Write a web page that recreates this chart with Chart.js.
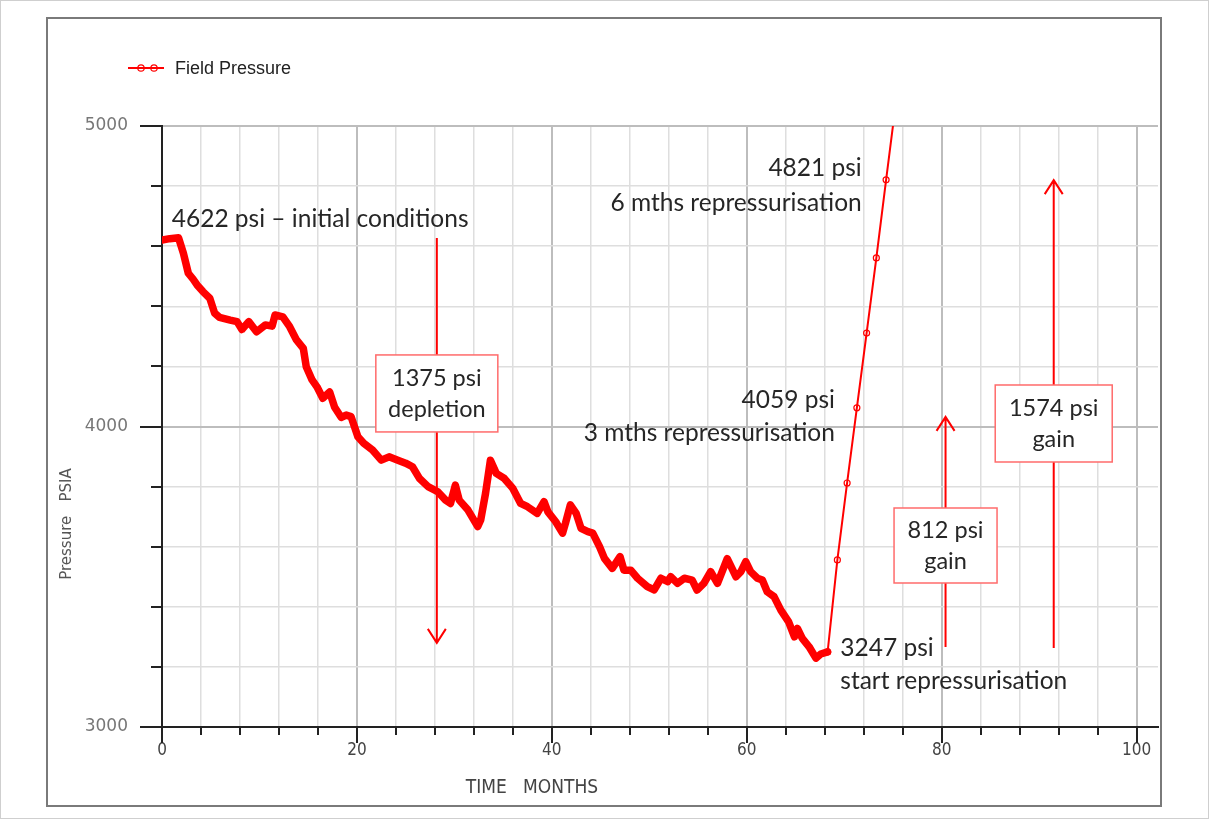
<!DOCTYPE html>
<html>
<head>
<meta charset="utf-8">
<script src="https://cdn.jsdelivr.net/npm/chart.js@4.4.0/dist/chart.umd.min.js"></script>
<style>
  html, body { margin: 0; padding: 0; background: #fff; }
  #wrap { position: relative; width: 1209px; height: 819px; }
</style>
</head>
<body>
<div id="wrap"><canvas id="pressureChart"></canvas></div>
<script>
// field history (months, psia)
const historyMonths = [
    0, 0.8, 1.7, 2.2, 2.7, 3.2, 3.6, 4.2, 4.9, 5.4, 5.9, 7.0, 7.7, 8.2, 8.9, 9.7,
    10.6, 11.3, 11.6, 12.4, 13.1, 13.8, 14.5, 14.8, 15.4, 15.9, 16.5, 17.2, 17.7, 18.4, 18.9, 19.4,
    20.1, 20.7, 21.6, 22.5, 23.3, 24.2, 25.0, 25.7, 26.4, 27.3, 28.3, 29.1, 29.6, 30.1, 30.5, 31.4,
    32.4, 32.7, 33.2, 33.7, 34.3, 35.1, 36.0, 36.8, 37.5, 38.5, 39.2, 39.6, 40.4, 41.1, 41.4, 41.9,
    42.5, 43.0, 43.7, 44.2, 44.9, 45.4, 46.2, 47.0, 47.4, 48.1, 48.8, 49.8, 50.5, 51.2, 51.9, 52.2,
    52.9, 53.6, 54.4, 54.9, 55.6, 56.3, 57.0, 58.0, 58.9, 59.4, 59.9, 60.4, 61.1, 61.6, 62.1, 62.8,
    63.5, 64.3, 64.9, 65.2, 65.7, 66.4, 67.1, 67.6, 68.3
];
const historyPsi = [
    4620, 4625, 4628, 4576, 4510, 4490, 4471, 4449, 4427, 4377, 4363, 4354, 4349, 4323, 4349, 4315,
    4338, 4334, 4371, 4365, 4332, 4288, 4260, 4199, 4155, 4132, 4094, 4115, 4065, 4030, 4038, 4033,
    3966, 3944, 3922, 3888, 3899, 3888, 3878, 3866, 3828, 3800, 3783, 3755, 3744, 3805, 3755, 3722,
    3667, 3689, 3778, 3888, 3844, 3828, 3794, 3744, 3733, 3711, 3750, 3716, 3683, 3645, 3678, 3739,
    3711, 3661, 3650, 3645, 3600, 3561, 3528, 3567, 3522, 3522, 3495, 3467, 3456, 3495, 3484, 3500,
    3478, 3495, 3489, 3456, 3478, 3517, 3478, 3560, 3500, 3517, 3550, 3517, 3495, 3489, 3450, 3434,
    3389, 3350, 3300, 3328, 3295, 3267, 3229, 3243, 3250
];
// repressurisation, one point a month
const repressMonths = [68.3, 69.3, 70.3, 71.3, 72.3, 73.3, 74.3, 75.3];
const repressPsi = [3250, 3556, 3812, 4062, 4311, 4561, 4821, 5076];

const yTickLabels = [3000, 4000, 5000];
const xTickLabels = [0, 20, 40, 60, 80, 100];

const RED = '#ff0000';
const BOX_RED = '#ff6b6b';
const TEXT = '#262626';
const NOTE_FONT = '24.5px Lato, "Open Sans", sans-serif';
const BOX_FONT = '23.5px Lato, "Open Sans", sans-serif';

// annotation texts / arrows / boxes, placed in data units
const notes = [
    { text: '4622 psi \u2013 initial conditions', m: 1.0, p: 4690, align: 'left' },
    { text: '4821 psi', m: 71.8, p: 4860, align: 'right' },
    { text: '6 mths repressurisation', m: 71.8, p: 4744, align: 'right' },
    { text: '4059 psi', m: 69.05, p: 4088, align: 'right' },
    { text: '3 mths repressurisation', m: 69.05, p: 3978, align: 'right' },
    { text: '3247 psi', m: 69.6, p: 3263, align: 'left' },
    { text: 'start repressurisation', m: 69.6, p: 3153, align: 'left' }
];
const arrows = [
    { m: 28.2, from: 4627, to: 3280 },
    { m: 80.4, from: 3266, to: 4032 },
    { m: 91.5, from: 3263, to: 4820 }
];
const boxes = [
    { m: 28.2, p: 4110, w: 122, h: 77, lines: ['1375 psi', 'depletion'] },
    { m: 80.4, p: 3604, w: 103, h: 75, lines: ['812 psi', 'gain'] },
    { m: 91.5, p: 4010, w: 117, h: 77, lines: ['1574 psi', 'gain'] }
];

function toPoints(xs, ys) {
    return xs.map((x, i) => ({ x: x, y: ys[i] }));
}

const decorPlugin = {
    id: 'decor',
    beforeDraw(chart) {
        const c = chart.ctx;
        c.save();
        c.fillStyle = '#fff';
        c.fillRect(0, 0, chart.width, chart.height);
        c.strokeStyle = '#cfcfcf';
        c.lineWidth = 1;
        c.strokeRect(0.5, 0.5, chart.width - 1, chart.height - 1);
        c.strokeStyle = '#7a7a7a';
        c.lineWidth = 2;
        c.strokeRect(47, 18, 1114, 788);
        c.restore();
    },
    afterDatasetsDraw(chart) {
        const c = chart.ctx;
        const xs = chart.scales.x, ys = chart.scales.y;
        c.save();

        // arrows
        c.strokeStyle = RED;
        c.lineWidth = 2;
        arrows.forEach(a => {
            const x = xs.getPixelForValue(a.m);
            const y0 = ys.getPixelForValue(a.from);
            const y1 = ys.getPixelForValue(a.to);
            const dir = y1 > y0 ? 1 : -1;
            c.beginPath();
            c.moveTo(x, y0);
            c.lineTo(x, y1);
            c.moveTo(x - 9, y1 - dir * 14);
            c.lineTo(x, y1);
            c.lineTo(x + 9, y1 - dir * 14);
            c.stroke();
        });

        // boxes
        c.font = BOX_FONT;
        c.textAlign = 'center';
        c.textBaseline = 'middle';
        boxes.forEach(b => {
            const cx = xs.getPixelForValue(b.m);
            const cy = ys.getPixelForValue(b.p);
            c.fillStyle = '#fff';
            c.fillRect(cx - b.w / 2, cy - b.h / 2, b.w, b.h);
            c.strokeStyle = BOX_RED;
            c.lineWidth = 1.5;
            c.strokeRect(cx - b.w / 2, cy - b.h / 2, b.w, b.h);
            c.fillStyle = TEXT;
            c.fillText(b.lines[0], cx, cy - 15);
            c.fillText(b.lines[1], cx, cy + 16);
        });

        // free notes
        c.font = NOTE_FONT;
        c.fillStyle = TEXT;
        notes.forEach(n => {
            c.textAlign = n.align;
            c.fillText(n.text, xs.getPixelForValue(n.m), ys.getPixelForValue(n.p));
        });
        c.restore();
    },
    afterDraw(chart) {
        const c = chart.ctx;
        const xs = chart.scales.x, ys = chart.scales.y;
        const area = chart.chartArea;
        c.save();
        c.strokeStyle = '#222';
        c.lineWidth = 2;

        // tick marks outside the axes
        ys.ticks.forEach(t => {
            const y = Math.round(ys.getPixelForValue(t.value));
            const len = t.value % 1000 === 0 ? 22 : 11;
            c.beginPath();
            c.moveTo(area.left - len, y);
            c.lineTo(area.left, y);
            c.stroke();
        });
        xs.ticks.forEach(t => {
            const x = Math.round(xs.getPixelForValue(t.value));
            const len = t.value % 20 === 0 ? 16 : 8;
            c.beginPath();
            c.moveTo(x, area.bottom);
            c.lineTo(x, area.bottom + len);
            c.stroke();
        });

        // axis titles
        c.fillStyle = '#555';
        c.font = '15px "DejaVu Sans", sans-serif';
        c.textAlign = 'center';
        c.textBaseline = 'middle';
        c.save();
        c.translate(67, 524);
        c.rotate(-Math.PI / 2);
        c.fillText('Pressure   PSIA', 0, 0);
        c.restore();
        c.fillStyle = '#444';
        c.font = '19px "DejaVu Sans Condensed", "DejaVu Sans", sans-serif';
        c.fillText('TIME   MONTHS', 532, 788);

        // legend
        c.strokeStyle = RED;
        c.lineWidth = 2;
        c.beginPath();
        c.moveTo(128, 68);
        c.lineTo(164, 68);
        c.stroke();
        c.lineWidth = 1.2;
        [141, 154].forEach(px => {
            c.beginPath();
            c.arc(px, 68, 3.2, 0, Math.PI * 2);
            c.stroke();
        });
        c.fillStyle = '#222';
        c.font = '18px "Liberation Sans", Arial, sans-serif';
        c.textAlign = 'left';
        c.fillText('Field Pressure', 175, 69);
        c.restore();
    }
};

const ctx = document.getElementById('pressureChart');
const pressureChart = new Chart(ctx, {
    type: 'line',
    data: {
        datasets: [{
            label: 'Field Pressure',
            data: toPoints(historyMonths, historyPsi),
            borderColor: RED,
            borderWidth: 7.5,
            borderJoinStyle: 'round',
            borderCapStyle: 'round',
            pointRadius: 0,
            tension: 0
        }, {
            label: 'Field Pressure',
            data: toPoints(repressMonths, repressPsi),
            borderColor: RED,
            borderWidth: 2,
            pointStyle: 'circle',
            pointRadius: 3,
            pointBorderWidth: 1.2,
            pointBorderColor: RED,
            pointBackgroundColor: 'rgba(255,255,255,0)',
            tension: 0
        }]
    },
    options: {
        responsive: true,
        maintainAspectRatio: false,
        animation: false,
        layout: { padding: { left: 0, top: 126, right: 51, bottom: 0 } },
        plugins: {
            legend: { display: false },
            tooltip: { enabled: false }
        },
        scales: {
            x: {
                type: 'linear',
                min: 0,
                max: 102.2,
                afterFit: scale => { scale.height = 92; },
                border: { color: '#222', width: 2 },
                grid: {
                    drawTicks: false,
                    color: c => c.tick.value % 20 === 0 ? '#bdbdbd' : '#dedede',
                    lineWidth: c => c.tick.value % 20 === 0 ? 2 : 1.5
                },
                ticks: {
                    stepSize: 4,
                    includeBounds: false,
                    autoSkip: false,
                    maxRotation: 0,
                    padding: 13,
                    color: '#444',
                    font: { family: '"DejaVu Sans Condensed", "DejaVu Sans", sans-serif', size: 17 },
                    callback: v => xTickLabels.includes(v) ? String(v) : ''
                }
            },
            y: {
                min: 3000,
                max: 5000,
                afterFit: scale => { scale.width = 162; },
                border: { color: '#222', width: 2 },
                grid: {
                    drawTicks: false,
                    color: c => c.tick.value % 1000 === 0 ? '#bdbdbd' : '#dedede',
                    lineWidth: c => c.tick.value % 1000 === 0 ? 2 : 1.5
                },
                ticks: {
                    stepSize: 200,
                    autoSkip: false,
                    padding: 34,
                    color: '#777',
                    font: { family: '"DejaVu Sans", sans-serif', size: 17 },
                    callback: v => yTickLabels.includes(v) ? String(v) : ''
                }
            }
        }
    },
    plugins: [decorPlugin]
});
</script>
</body>
</html>
